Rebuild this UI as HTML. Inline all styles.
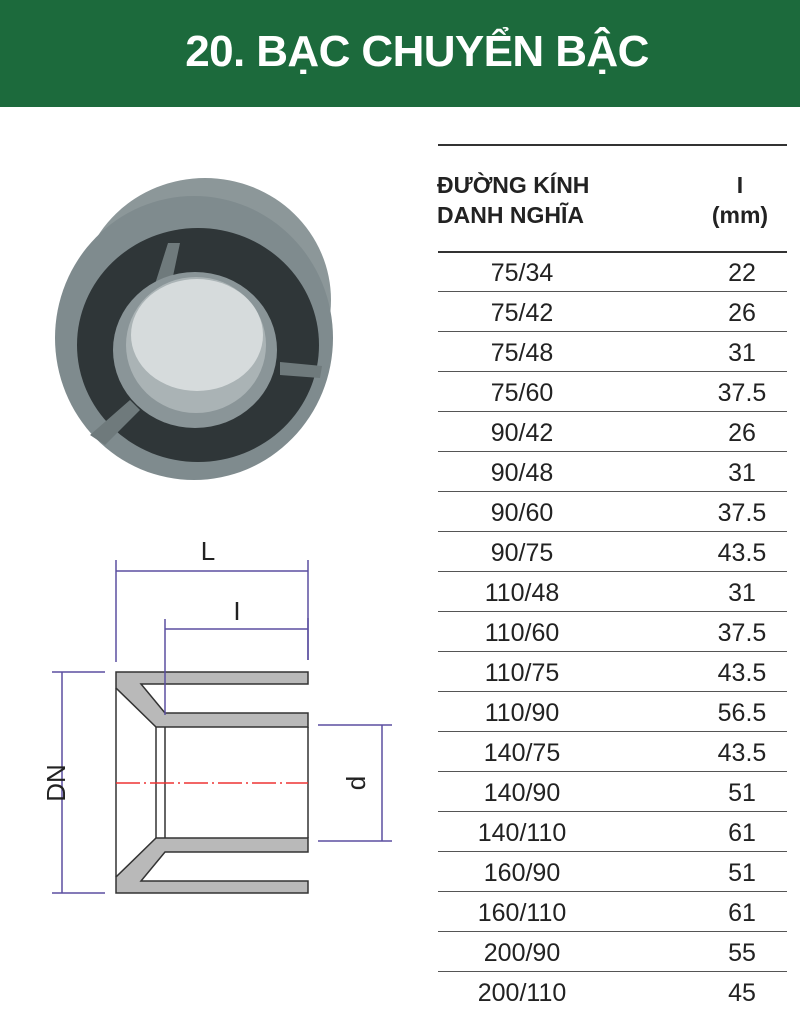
<!DOCTYPE html>
<html><head><meta charset="utf-8"><style>
body{margin:0;width:800px;height:1015px;background:#fff;position:relative;overflow:hidden;font-family:"Liberation Sans",sans-serif;}
.hdr{position:absolute;left:0;top:0;width:766px;padding-left:34px;height:107px;background:#1c6a3c;color:#fff;font-weight:bold;font-size:44px;text-align:center;line-height:104px;letter-spacing:-0.6px}
.rule{position:absolute;left:438px;width:349px;height:0;border-top:1.5px solid #333}
.row{position:absolute;left:437px;width:350px;height:40px;font-size:25px;color:#222}
.row span{position:absolute;top:1px;line-height:40px;text-align:center}
.a{left:10px;width:150px}.b{left:265px;width:80px}
.hd{position:absolute;font-weight:bold;font-size:23px;color:#222;line-height:30px}
</style></head><body>
<div class="hdr">20. BẠC CHUYỂN BẬC</div>
<div class="rule" style="top:144px;border-top-width:2px"></div>
<div class="hd" style="left:437px;top:170px">ĐƯỜNG KÍNH<br>DANH NGHĨA</div>
<div class="hd" style="left:705px;top:170px;width:70px;text-align:center">I<br>(mm)</div>
<div class="rule" style="top:251px;border-top-width:2px"></div>
<div id="rows"></div>
<svg width="800" height="1015" style="position:absolute;left:0;top:0" xmlns="http://www.w3.org/2000/svg">
<ellipse cx="205" cy="300" rx="126" ry="122" fill="#8c9799"/>
<ellipse cx="194" cy="338" rx="139" ry="142" fill="#7f8b8e"/>
<ellipse cx="198" cy="345" rx="121" ry="117" fill="#2f3638"/>
<path d="M150 300 L168 243 L180 243 L168 300Z M280 362 L322 366 L320 378 L280 375Z M90 435 L130 400 L140 410 L105 445Z" fill="#6f7a7c"/>
<ellipse cx="195" cy="350" rx="82" ry="78" fill="#8a9598"/>
<ellipse cx="196" cy="345" rx="70" ry="68" fill="#aab3b5"/>
<ellipse cx="197" cy="335" rx="66" ry="56" fill="#d6dbdc"/>
<g stroke="#333" stroke-width="1.5" fill="#b9b9b9">
<polygon points="116,672 308,672 308,684 141,684 165,713 308,713 308,727 156,727 116,688"/>
<polygon points="116,893 308,893 308,881 141,881 165,852 308,852 308,838 156,838 116,877"/>
</g>
<g stroke="#333" stroke-width="1.5" fill="none">
<line x1="116" y1="688" x2="116" y2="877"/>
<line x1="308" y1="727" x2="308" y2="838"/>
<line x1="156" y1="727" x2="156" y2="838"/>
<line x1="165" y1="727" x2="165" y2="838"/>
</g>
<line x1="116" y1="783" x2="308" y2="783" stroke="#e33" stroke-width="1.5" stroke-dasharray="24,4,2,4"/>
<g stroke="#5b4fa0" stroke-width="1.5" fill="none">
<line x1="116" y1="560" x2="116" y2="662"/><line x1="308" y1="560" x2="308" y2="660"/>
<line x1="116" y1="571" x2="308" y2="571"/>
<line x1="165" y1="619" x2="165" y2="715"/><line x1="308" y1="618" x2="308" y2="660"/>
<line x1="165" y1="629" x2="308" y2="629"/>
<line x1="52" y1="672" x2="105" y2="672"/><line x1="52" y1="893" x2="105" y2="893"/>
<line x1="62" y1="672" x2="62" y2="893"/>
<line x1="318" y1="725" x2="392" y2="725"/><line x1="318" y1="841" x2="392" y2="841"/>
<line x1="382" y1="725" x2="382" y2="841"/>
</g>
<text x="208" y="560" font-size="26" font-family="Liberation Sans" text-anchor="middle" fill="#222">L</text>
<text x="237" y="620" font-size="26" font-family="Liberation Sans" text-anchor="middle" fill="#222">I</text>
<text transform="translate(65,783) rotate(-90)" font-size="26" font-family="Liberation Sans" text-anchor="middle" fill="#222">DN</text>
<text transform="translate(365,783) rotate(-90)" font-size="26" font-family="Liberation Sans" text-anchor="middle" fill="#222">d</text>
</svg>
<script>
var d=[["75/34","22"],["75/42","26"],["75/48","31"],["75/60","37.5"],["90/42","26"],["90/48","31"],["90/60","37.5"],["90/75","43.5"],["110/48","31"],["110/60","37.5"],["110/75","43.5"],["110/90","56.5"],["140/75","43.5"],["140/90","51"],["140/110","61"],["160/90","51"],["160/110","61"],["200/90","55"],["200/110","45"]];
var h="";for(var i=0;i<d.length;i++){var y=252+i*40;h+='<div class="row" style="top:'+y+'px"><span class="a">'+d[i][0]+'</span><span class="b">'+d[i][1]+'</span></div>';if(i<d.length-1)h+='<div class="rule" style="top:'+(y+39)+'px;border-top:1px solid #555"></div>';}
document.getElementById("rows").innerHTML=h;
</script>
</body></html>
